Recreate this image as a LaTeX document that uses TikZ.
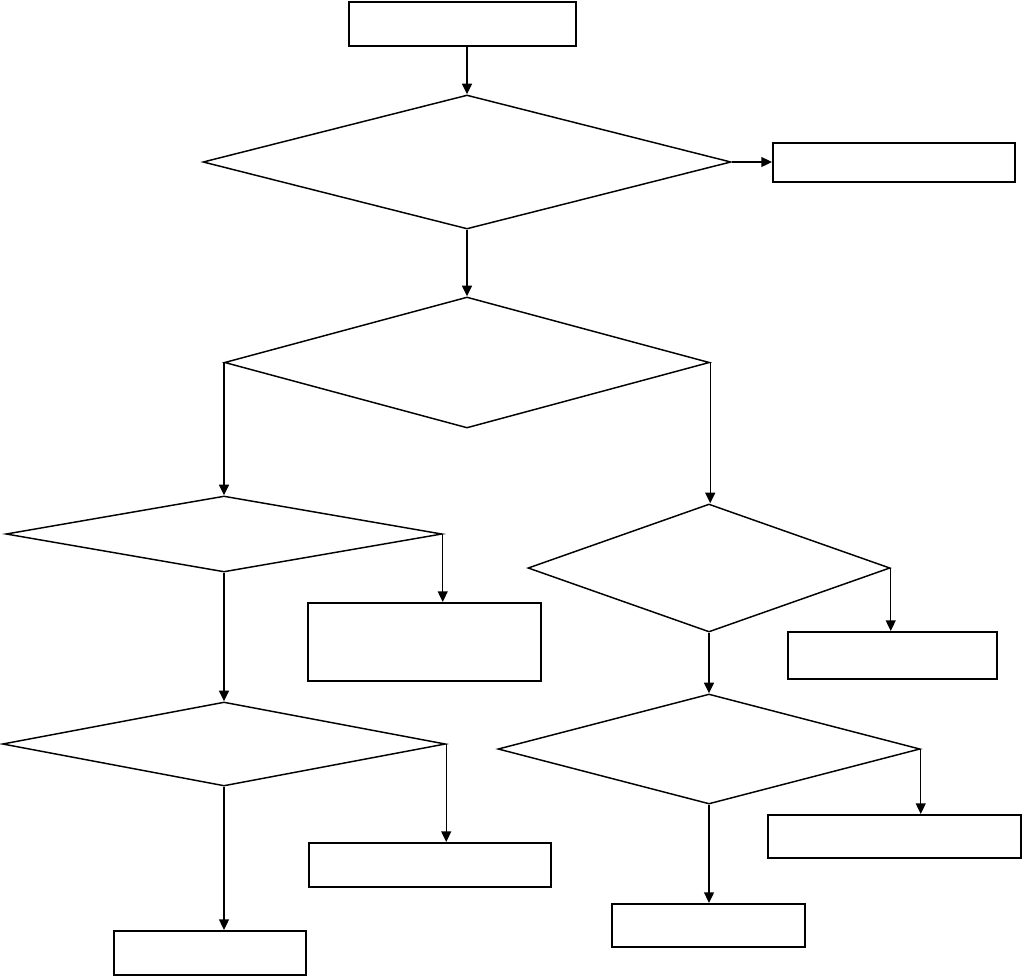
\documentclass[tikz,border=0pt]{standalone}
\usepackage{tikz}
\usetikzlibrary{arrows.meta,shapes.geometric}
\tikzset{
  proc/.style 2 args={draw,line width=1.6pt,rectangle,inner sep=0pt,minimum width=#1*0.75pt,minimum height=#2*0.75pt},
  dec/.style 2 args={draw,line width=1.1pt,diamond,inner sep=0pt,aspect=1,minimum width=#1*0.75pt,minimum height=#2*0.75pt},
  arr/.style={line width=1.1pt,-{Triangle[length=8pt,width=7.5pt]}},
  flow/.style={line width=1.1pt},
}
\begin{document}
\begin{tikzpicture}[x=0.75pt,y=-0.75pt]
    \useasboundingbox (0,0) rectangle (1023,978);
    % --- top: start box and first decision ---
    \node[proc={227}{44}] (start) at (462.5,24) {};
    \node[dec={528}{134}] (d1) at (467,162) {};
    \node[proc={242}{39}] (exit) at (894,162.5) {};
    \draw[arr] (d1.north |- start.south) -- (d1.north);
    \draw[arr] (d1.east) -- (d1.east -| exit.west);
    % --- second decision ---
    \node[dec={485}{131}] (d2) at (467,362.5) {};
    \draw[arr] (d1.south) -- (d2.north);
    % --- left branch ---
    \node[dec={436}{76}] (d3) at (224,534) {};
    \node[proc={233}{78}] (b3) at (424.5,642) {};
    \node[dec={443}{84}] (d5) at (224,744) {};
    \node[proc={242}{44}] (b5) at (430,865) {};
    \node[proc={192}{44}] (b6) at (210,953) {};
    \draw[flow] (d2.west) -- (d3.north |- d2.west);
    \draw[arr] (d3.north |- d2.west) -- (d3.north);
    \draw[arr] (d3.east) -- (d3.east |- b3.north);
    \draw[arr] (d3.south) -- (d5.north);
    \draw[arr] (d5.east) -- (d5.east |- b5.north);
    \draw[arr] (d5.south) -- (d5.south |- b6.north);
    % --- right branch ---
    \node[dec={362}{128}] (d4) at (709,568) {};
    \node[proc={209}{47}] (b4) at (892.5,655.5) {};
    \node[dec={422}{110}] (d6) at (709,749) {};
    \node[proc={253}{43}] (b7) at (894.5,836.5) {};
    \node[proc={193}{43}] (b8) at (708.5,925.5) {};
    \draw[arr] (d2.east) -- (d2.east |- d4.north);
    \draw[arr] (d4.east) -- (d4.east |- b4.north);
    \draw[arr] (d4.south) -- (d6.north);
    \draw[arr] (d6.east) -- (d6.east |- b7.north);
    \draw[arr] (d6.south) -- (d6.south |- b8.north);
\end{tikzpicture}
\end{document}
